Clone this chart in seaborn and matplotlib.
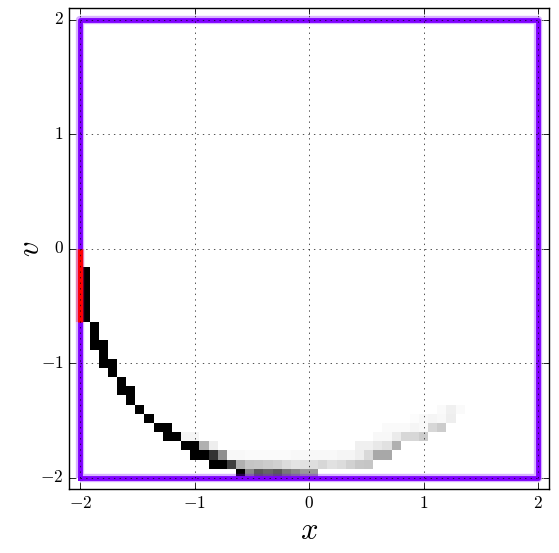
import matplotlib
matplotlib.use("Agg")
import matplotlib.pyplot as plt
import seaborn as sns

# ---- data: occupied cells of the (x, v) histogram (cell centres and weights) ----
cell_x = [
    -1.96, -1.96, -1.96, -1.96, -1.96, -1.96,
    -1.88, -1.88, -1.88,
    -1.80, -1.80, -1.80,
    -1.72, -1.72,
    -1.64, -1.64,
    -1.56, -1.56,
    -1.48,
    -1.40,
    -1.32,
    -1.24, -1.24,
    -1.16,
    -1.08, -1.08,
    -1.00, -1.00, -1.00,
    -0.92, -0.92,
    -0.84, -0.84, -0.84,
    -0.76, -0.76,
    -0.68, -0.68,
    -0.60, -0.60, -0.60,
    -0.52, -0.52, -0.52,
    -0.44, -0.44, -0.44,
    -0.36, -0.36, -0.36,
    -0.28, -0.28, -0.28,
    -0.20, -0.20, -0.20,
    -0.12, -0.12, -0.12,
    -0.04, -0.04, -0.04,
    0.04, 0.04, 0.04,
    0.12, 0.12,
    0.20, 0.20,
    0.28, 0.28,
    0.36, 0.36,
    0.44, 0.44, 0.44,
    0.52, 0.52, 0.52,
    0.60, 0.60, 0.60,
    0.68, 0.68, 0.68, 0.68,
    0.76, 0.76, 0.76,
    0.84, 0.84,
    0.92, 0.92, 0.92,
    1.00, 1.00, 1.00,
    1.08, 1.08,
    1.16, 1.16, 1.16,
    1.24, 1.24,
    1.32,
]
cell_v = [
    -0.60, -0.52, -0.44, -0.36, -0.28, -0.20,
    -0.84, -0.76, -0.68,
    -1.00, -0.92, -0.84,
    -1.08, -1.00,
    -1.24, -1.16,
    -1.32, -1.24,
    -1.40,
    -1.48,
    -1.56,
    -1.64, -1.56,
    -1.64,
    -1.72, -1.64,
    -1.80, -1.72, -1.64,
    -1.80, -1.72,
    -1.88, -1.80, -1.72,
    -1.88, -1.80,
    -1.88, -1.80,
    -1.96, -1.88, -1.80,
    -1.96, -1.88, -1.80,
    -1.96, -1.88, -1.80,
    -1.96, -1.88, -1.80,
    -1.96, -1.88, -1.80,
    -1.96, -1.88, -1.80,
    -1.96, -1.88, -1.80,
    -1.96, -1.88, -1.80,
    -1.96, -1.88, -1.80,
    -1.88, -1.80,
    -1.88, -1.80,
    -1.88, -1.80,
    -1.88, -1.80,
    -1.88, -1.80, -1.72,
    -1.88, -1.80, -1.72,
    -1.80, -1.72, -1.64,
    -1.80, -1.72, -1.64, -1.56,
    -1.72, -1.64, -1.56,
    -1.64, -1.56,
    -1.64, -1.56, -1.48,
    -1.64, -1.56, -1.48,
    -1.56, -1.48,
    -1.56, -1.48, -1.40,
    -1.48, -1.40,
    -1.40,
]
cell_w = [
    1.0, 1.0, 1.0, 1.0, 1.0, 1.0,
    1.0, 1.0, 1.0,
    1.0, 1.0, 1.0,
    1.0, 1.0,
    1.0, 1.0,
    1.0, 1.0,
    1.0,
    1.0,
    1.0,
    1.0, 1.0,
    1.0,
    1.0, 0.04,
    1.0, 1.0, 0.04,
    1.0, 0.31,
    1.0, 0.80, 0.07,
    1.0, 0.44,
    0.75, 0.03,
    1.0, 0.31, 0.03,
    0.47, 0.23, 0.02,
    0.65, 0.22, 0.02,
    0.60, 0.20, 0.02,
    0.65, 0.18, 0.02,
    0.53, 0.14, 0.02,
    0.47, 0.11, 0.03,
    0.40, 0.12, 0.03,
    0.40, 0.13, 0.03,
    0.16, 0.03,
    0.12, 0.03,
    0.14, 0.04,
    0.18, 0.04,
    0.22, 0.07, 0.06,
    0.23, 0.15, 0.06,
    0.34, 0.09, 0.03,
    0.34, 0.12, 0.03, 0.02,
    0.31, 0.08, 0.02,
    0.16, 0.02,
    0.16, 0.04, 0.015,
    0.20, 0.03, 0.03,
    0.16, 0.04,
    0.20, 0.03, 0.02,
    0.07, 0.06,
    0.02,
]

# boundary of the domain and the red boundary segment
box_x = [-2, 2, 2, -2, -2]
box_v = [-2, -2, 2, 2, -2]
red_x = [-2, -2]
red_v = [0.0, -0.64]

ticks = [-2, -1, 0, 1, 2]
tick_labels = ["$-2$", "$-1$", "$0$", "$1$", "$2$"]

plt.style.use("classic")
plt.rcParams.update({
    "figure.facecolor": "white",
    "savefig.facecolor": "white",
    "mathtext.fontset": "cm",
    "font.family": "serif",
    "xtick.direction": "in",
    "ytick.direction": "in",
})

fig = plt.figure(figsize=(5.59, 5.53), dpi=100)
ax = fig.add_axes([0.1234, 0.1152, 0.8593, 0.8698])

sns.histplot(x=cell_x, y=cell_v, weights=cell_w, bins=50,
             binrange=((-2, 2), (-2, 2)), cmap="gray_r", vmin=0, vmax=1,
             ax=ax, zorder=1)

purple = "#7f00ff"
ax.plot(box_x, box_v, color=purple, lw=6, alpha=0.3, solid_capstyle="butt", zorder=2)
ax.plot(box_x, box_v, color=purple, lw=3.5, zorder=2)
ax.plot(red_x, red_v, color="#ff0000", lw=6, alpha=0.3, solid_capstyle="butt", zorder=2.1)
ax.plot(red_x, red_v, color="#ff0000", lw=3.5, solid_capstyle="butt", zorder=2.1)

ax.set_xlim(-2.1, 2.1)
ax.set_ylim(-2.1, 2.1)
ax.set_xticks(ticks)
ax.set_yticks(ticks)
ax.set_xticklabels(tick_labels, fontsize=12.5)
ax.set_yticklabels(tick_labels, fontsize=12.5)
ax.minorticks_off()
ax.tick_params(which="major", length=4, width=0.6, top=True, right=True)
ax.grid(True, linestyle=":", color="black", linewidth=0.6, alpha=0.8)
ax.set_axisbelow(False)
ax.set_xlabel("$x$", fontsize=22, labelpad=2)
ax.set_ylabel("$v$", fontsize=22, labelpad=-4)

fig.savefig("out.png", dpi=100)
